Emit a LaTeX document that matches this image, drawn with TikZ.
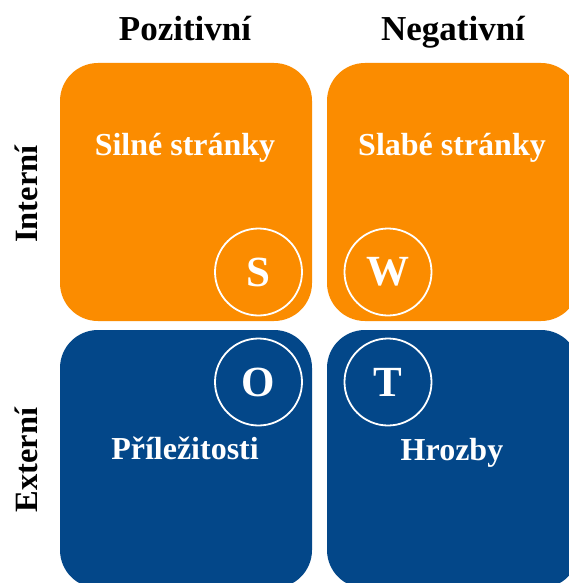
\documentclass[tikz,border=0pt]{standalone}
\usepackage{fontspec}
\setmainfont{Liberation Serif}
\definecolor{swotorange}{RGB}{251,140,0}
\definecolor{swotblue}{RGB}{3,71,137}
\tikzset{
  quad/.style={rounded corners=38pt, minimum width=252pt, minimum height=258pt, inner sep=0pt, draw=none},
  hdr/.style={font=\fontsize{35}{41}\selectfont\bfseries, text=black, anchor=base, inner sep=0pt},
  side/.style={font=\fontsize{32.5}{39}\selectfont\bfseries, text=black, anchor=base, inner sep=0pt, rotate=90},
  lbl/.style={font=\fontsize{32}{38}\selectfont\bfseries, text=white, anchor=base, inner sep=0pt},
  letter/.style={circle, draw=white, line width=1.8pt, minimum size=87pt, inner sep=0pt, text=white, font=\fontsize{43}{50}\selectfont\bfseries}
}
\begin{document}
\begin{tikzpicture}[x=1pt,y=-1pt]
\useasboundingbox (0,0) rectangle (569,583);
\begin{scope}
\clip (0,0) rectangle (569,583);
\fill[white] (0,0) rectangle (569,583);
\node[quad, fill=swotorange] (s) at (186,192) {};
\node[quad, fill=swotorange] (w) at (453,192) {};
\node[quad, fill=swotblue] (o) at (186,459) {};
\node[quad, fill=swotblue] (t) at (453,459) {};

\node[hdr] (pos) at (185,41) {Pozitivní};
\node[hdr] (neg) at (453,41) {Negativní};
\node[side] (int) at (37,194) {Interní};
\node[side] (ext) at (37,460) {Externí};

\node[lbl] (sl) at (185,155) {Silné stránky};
\node[lbl] (wl) at (452,155) {Slabé stránky};
\node[lbl] (ol) at (185,459) {Příležitosti};
\node[lbl] (tl) at (452,460) {Hrozby};

\node[letter] (sc) at (258.5,272) {S};
\node[letter] (wc) at (388,272) {W};
\node[letter] (oc) at (258.5,382) {O};
\node[letter] (tc) at (388,382) {T};
\end{scope}
\end{tikzpicture}
\end{document}
